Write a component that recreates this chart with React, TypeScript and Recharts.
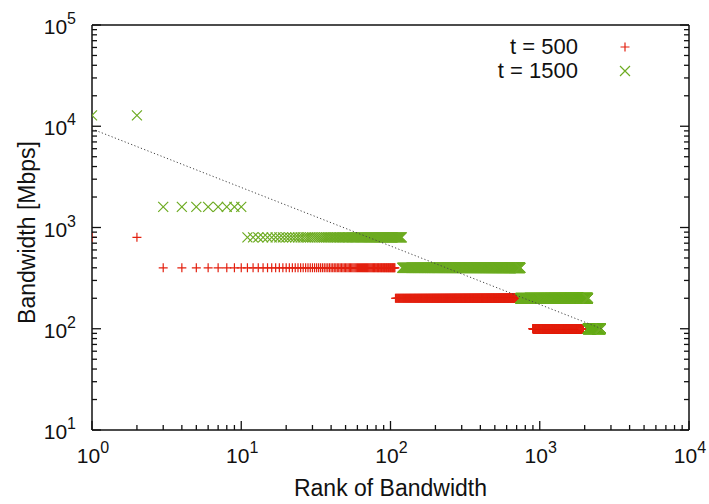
import { ScatterChart, Scatter, XAxis, YAxis } from "recharts"

const FONT = '"Liberation Sans", Arial, Helvetica, sans-serif'
const INK = "#111"
const RED = "#e3200f"
const GREEN = "#6dab22"

// rank plot: each step is a range of ranks that share one bandwidth [Mbps]
const t500From = [1, 3, 108, 901]
const t500To = [2, 107, 900, 1950]
const t500Bw = [800, 400, 200, 100]

const t1500From = [1, 3, 11, 120, 741, 2101]
const t1500To = [2, 10, 119, 740, 2100, 2560]
const t1500Bw = [12800, 1600, 800, 400, 200, 100]

// dotted fit line end points
const fitRank = [1, 2600]
const fitBw = [9400, 100]

const seriesNames = ["t = 500", "t = 1500"]
const xMajor = [1, 10, 100, 1000, 10000]
const yMajor = [10, 100, 1000, 10000, 100000]

function steps(from: number[], to: number[], bw: number[]) {
  const out: { rank: number; bw: number }[] = []
  from.forEach((f, i) => {
    for (let r = f; r <= to[i]; r++) out.push({ rank: r, bw: bw[i] })
  })
  return out
}

function withMinor(majors: number[]) {
  const t: number[] = []
  majors.slice(0, -1).forEach((m) => {
    for (let k = 1; k <= 9; k++) t.push(m * k)
  })
  t.push(majors[majors.length - 1])
  return t
}

const t500 = steps(t500From, t500To, t500Bw)
const t1500 = steps(t1500From, t1500To, t1500Bw)
const fit = fitRank.map((r, i) => ({ rank: r, bw: fitBw[i] }))
const xTicks = withMinor(xMajor)
const yTicks = withMinor(yMajor)

const exp = (v: number) => Math.round(Math.log10(v))

const Pow = ({ x, y, v, anchor }: any) => (
  <text x={x} y={y} textAnchor={anchor} fontSize={21} fill={INK} fontFamily={FONT}>
    10
    <tspan dy={-10} fontSize={16}>
      {exp(v)}
    </tspan>
  </text>
)

const BottomTick = (p: any) => {
  const v = p.payload.value
  const major = xMajor.includes(v)
  return (
    <g>
      <line x1={p.x} x2={p.x} y1={p.y} y2={p.y - (major ? 9 : 5)} stroke={INK} strokeWidth={1.3} />
      {major && <Pow x={p.x + 1} y={p.y + 33} v={v} anchor="middle" />}
    </g>
  )
}

const TopTick = (p: any) => {
  const major = xMajor.includes(p.payload.value)
  return <line x1={p.x} x2={p.x} y1={p.y} y2={p.y + (major ? 9 : 5)} stroke={INK} strokeWidth={1.3} />
}

const LeftTick = (p: any) => {
  const v = p.payload.value
  const major = yMajor.includes(v)
  return (
    <g>
      <line x1={p.x} x2={p.x + (major ? 9 : 5)} y1={p.y} y2={p.y} stroke={INK} strokeWidth={1.3} />
      {major && <Pow x={p.x - 16} y={p.y + 9} v={v} anchor="end" />}
    </g>
  )
}

const RightTick = (p: any) => {
  const major = yMajor.includes(p.payload.value)
  return <line x1={p.x} x2={p.x - (major ? 9 : 5)} y1={p.y} y2={p.y} stroke={INK} strokeWidth={1.3} />
}

const Plus = ({ cx, cy }: any) => (
  <path d={`M${cx - 4.5},${cy}H${cx + 4.5}M${cx},${cy - 4.5}V${cy + 4.5}`} stroke={RED} strokeWidth={1.2} fill="none" />
)

const Cross = ({ cx, cy }: any) => (
  <path
    d={`M${cx - 5},${cy - 5}L${cx + 5},${cy + 5}M${cx - 5},${cy + 5}L${cx + 5},${cy - 5}`}
    stroke={GREEN}
    strokeWidth={1.2}
    fill="none"
  />
)

const axisLine = { stroke: INK, strokeWidth: 1.5 }

export default function App() {
  return (
    <div style={{ position: "absolute", left: 0, top: 0, width: 709, height: 504, background: "#fff", fontFamily: FONT }}>
      <ScatterChart width={709} height={504} margin={{ top: 0, right: 0, bottom: 0, left: 0 }}>
        <XAxis
          xAxisId="b"
          dataKey="rank"
          type="number"
          scale="log"
          domain={[1, 10000]}
          allowDataOverflow
          ticks={xTicks}
          interval={0}
          tick={<BottomTick />}
          tickLine={false}
          tickSize={0}
          tickMargin={0}
          axisLine={axisLine}
          height={74}
          label={{ value: "Rank of Bandwidth", position: "insideBottom", offset: 8, fontSize: 23, fill: INK, fontFamily: FONT }}
        />
        <XAxis
          xAxisId="t"
          orientation="top"
          type="number"
          scale="log"
          domain={[1, 10000]}
          allowDataOverflow
          ticks={xTicks}
          interval={0}
          tick={<TopTick />}
          tickLine={false}
          tickSize={0}
          tickMargin={0}
          axisLine={axisLine}
          height={25}
        />
        <YAxis
          yAxisId="l"
          dataKey="bw"
          type="number"
          scale="log"
          domain={[10, 100000]}
          allowDataOverflow
          ticks={yTicks}
          interval={0}
          tick={<LeftTick />}
          tickLine={false}
          tickSize={0}
          tickMargin={0}
          axisLine={axisLine}
          width={92}
          label={{
            value: "Bandwidth [Mbps]",
            angle: -90,
            position: "insideLeft",
            offset: 27,
            dy: 5,
            fontSize: 23,
            fill: INK,
            fontFamily: FONT,
            style: { textAnchor: "middle" },
          }}
        />
        <YAxis
          yAxisId="r"
          orientation="right"
          type="number"
          scale="log"
          domain={[10, 100000]}
          allowDataOverflow
          ticks={yTicks}
          interval={0}
          tick={<RightTick />}
          tickLine={false}
          tickSize={0}
          tickMargin={0}
          axisLine={axisLine}
          width={20}
        />
        <Scatter name={seriesNames[0]} xAxisId="b" yAxisId="l" data={t500} shape={<Plus />} isAnimationActive={false} />
        <Scatter name={seriesNames[1]} xAxisId="b" yAxisId="l" data={t1500} shape={<Cross />} isAnimationActive={false} />
        <Scatter
          xAxisId="b"
          yAxisId="l"
          data={fit}
          line={{ stroke: "#444", strokeWidth: 1, strokeDasharray: "1.2 2.3" }}
          shape={() => <g />}
          isAnimationActive={false}
        />
      </ScatterChart>
      <div style={{ position: "absolute", left: 430, top: 35, fontSize: 22, color: INK, lineHeight: "24px" }}>
        {seriesNames.map((n, i) => (
          <div key={n} style={{ display: "flex", alignItems: "center", height: 24 }}>
            <span style={{ width: 148, textAlign: "right" }}>{n}</span>
            <svg width={20} height={20} style={{ marginLeft: 37 }}>
              {i === 0 ? <Plus cx={10} cy={10} /> : <Cross cx={10} cy={10} />}
            </svg>
          </div>
        ))}
      </div>
    </div>
  )
}
